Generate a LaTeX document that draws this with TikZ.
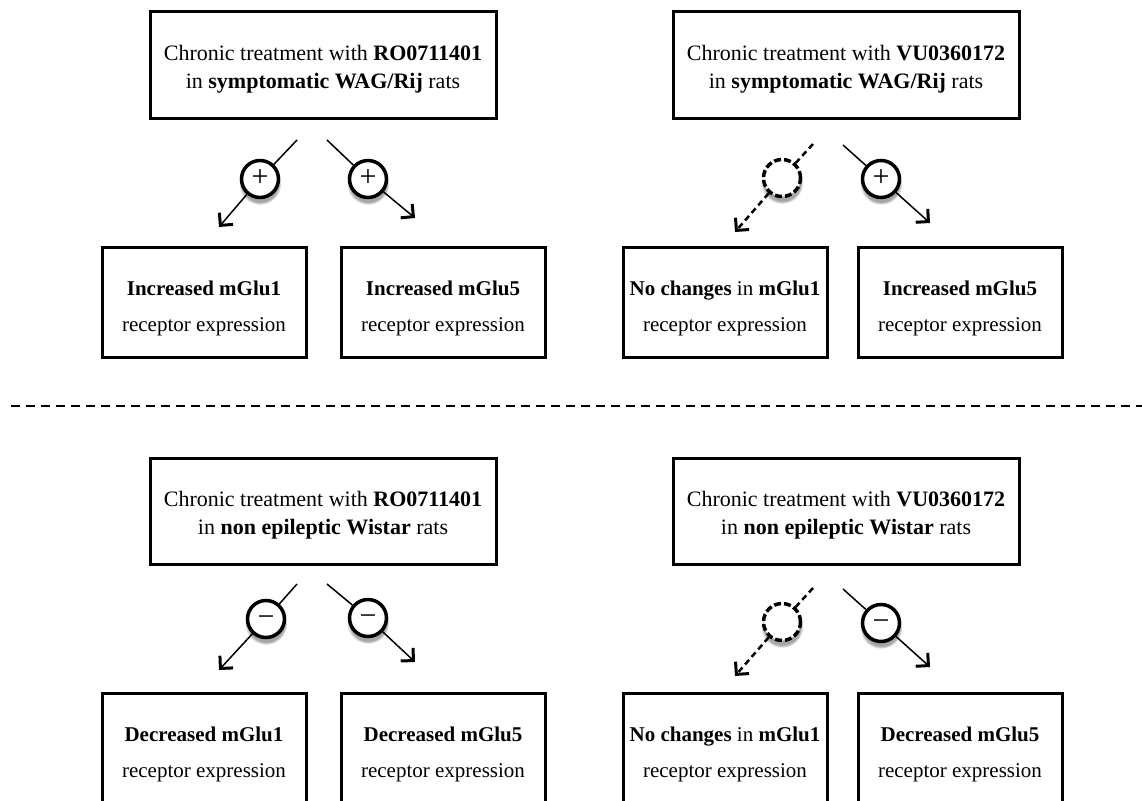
\documentclass[tikz,border=0pt]{standalone}
\usepackage{fontspec}
\setmainfont{Liberation Serif}
\usetikzlibrary{arrows.meta,shadows}

\newcommand{\tgap}{\rule{0pt}{24pt}}
\newcommand{\cgap}{\rule{0pt}{27pt}}

\begin{document}
\begin{tikzpicture}[x=1pt, y=-1pt,
    >={Straight Barb[length=9pt,width=18pt,line width=3pt]},
    treat/.style={draw, line width=3pt, minimum width=346pt, minimum height=106pt,
      inner sep=4pt, align=center, font=\fontsize{22}{28}\selectfont},
    change/.style={draw, line width=3pt, minimum width=204pt, minimum height=110pt,
      inner sep=4pt, align=center, font=\fontsize{21}{36}\selectfont},
    sign/.style={circle, draw, line width=3.5pt, fill=white, minimum size=37pt, inner sep=0pt,
      font=\fontsize{30}{30}\selectfont, text height=15pt, text depth=0pt,
      circular drop shadow={shadow xshift=0pt, shadow yshift=-4pt, shadow scale=1.15, opacity=0.7}},
    nosign/.style={sign, dash pattern=on 7pt off 3pt},
    link/.style={line width=1.5pt},
    nolink/.style={line width=2.5pt, dash pattern=on 6pt off 4pt},
    cut/.style={line width=2pt, dash pattern=on 9pt off 6pt}]

  \useasboundingbox (0,0) rectangle (1142,800);

  \node[treat] (symRO) at (323,65) {\tgap Chronic treatment with \textbf{RO0711401}\\ in \textbf{symptomatic WAG/Rij} rats};
  \node[treat] (symVU) at (846,65) {\tgap Chronic treatment with \textbf{VU0360172}\\ in \textbf{symptomatic WAG/Rij} rats};

  \node[change] (symRO1) at (204,302) {\cgap\textbf{Increased mGlu1}\\ receptor expression};
  \node[change] (symRO5) at (443,302) {\cgap\textbf{Increased mGlu5}\\ receptor expression};
  \node[change] (symVU1) at (725,302) {\cgap\textbf{No changes} in \textbf{mGlu1}\\ receptor expression};
  \node[change] (symVU5) at (960,302) {\cgap\textbf{Increased mGlu5}\\ receptor expression};

  \coordinate (a1) at (297,140); \node[sign] (p1) at (260,179) {+}; \coordinate (b1) at (219,227);
  \coordinate (a2) at (327,140); \node[sign] (p2) at (368,179) {+}; \coordinate (b2) at (415,218);
  \coordinate (a3) at (813,144); \node[nosign] (p3) at (782,178) {}; \coordinate (b3) at (735,232);
  \coordinate (a4) at (843,145); \node[sign] (p4) at (881,179) {+}; \coordinate (b4) at (930,223);

  \draw[link] (a1) -- (p1); \draw[link,->] (p1) -- (b1);
  \draw[link] (a2) -- (p2); \draw[link,->] (p2) -- (b2);
  \draw[nolink] (a3) -- (p3); \draw[nolink,->] (p3) -- (b3);
  \draw[link] (a4) -- (p4); \draw[link,->] (p4) -- (b4);

  \coordinate (cutL) at (11,406);
  \coordinate (cutR) at (1142,406);
  \draw[cut] (cutL) -- (cutR);

  \node[treat] (wisRO) at (323,511) {\tgap Chronic treatment with \textbf{RO0711401}\\ in \textbf{non epileptic Wistar} rats};
  \node[treat] (wisVU) at (846,511) {\tgap Chronic treatment with \textbf{VU0360172}\\ in \textbf{non epileptic Wistar} rats};

  \node[change] (wisRO1) at (204,748) {\cgap\textbf{Decreased mGlu1}\\ receptor expression};
  \node[change] (wisRO5) at (443,748) {\cgap\textbf{Decreased mGlu5}\\ receptor expression};
  \node[change] (wisVU1) at (725,748) {\cgap\textbf{No changes} in \textbf{mGlu1}\\ receptor expression};
  \node[change] (wisVU5) at (960,748) {\cgap\textbf{Decreased mGlu5}\\ receptor expression};

  \coordinate (c1) at (297,584); \node[sign] (m1) at (266,619) {−}; \coordinate (d1) at (219,670);
  \coordinate (c2) at (327,584); \node[sign] (m2) at (368,618) {−}; \coordinate (d2) at (415,662);
  \coordinate (c3) at (813,588); \node[nosign] (m3) at (782,622) {}; \coordinate (d3) at (735,676);
  \coordinate (c4) at (843,589); \node[sign] (m4) at (881,623) {−}; \coordinate (d4) at (930,667);

  \draw[link] (c1) -- (m1); \draw[link,->] (m1) -- (d1);
  \draw[link] (c2) -- (m2); \draw[link,->] (m2) -- (d2);
  \draw[nolink] (c3) -- (m3); \draw[nolink,->] (m3) -- (d3);
  \draw[link] (c4) -- (m4); \draw[link,->] (m4) -- (d4);

\end{tikzpicture}
\end{document}
